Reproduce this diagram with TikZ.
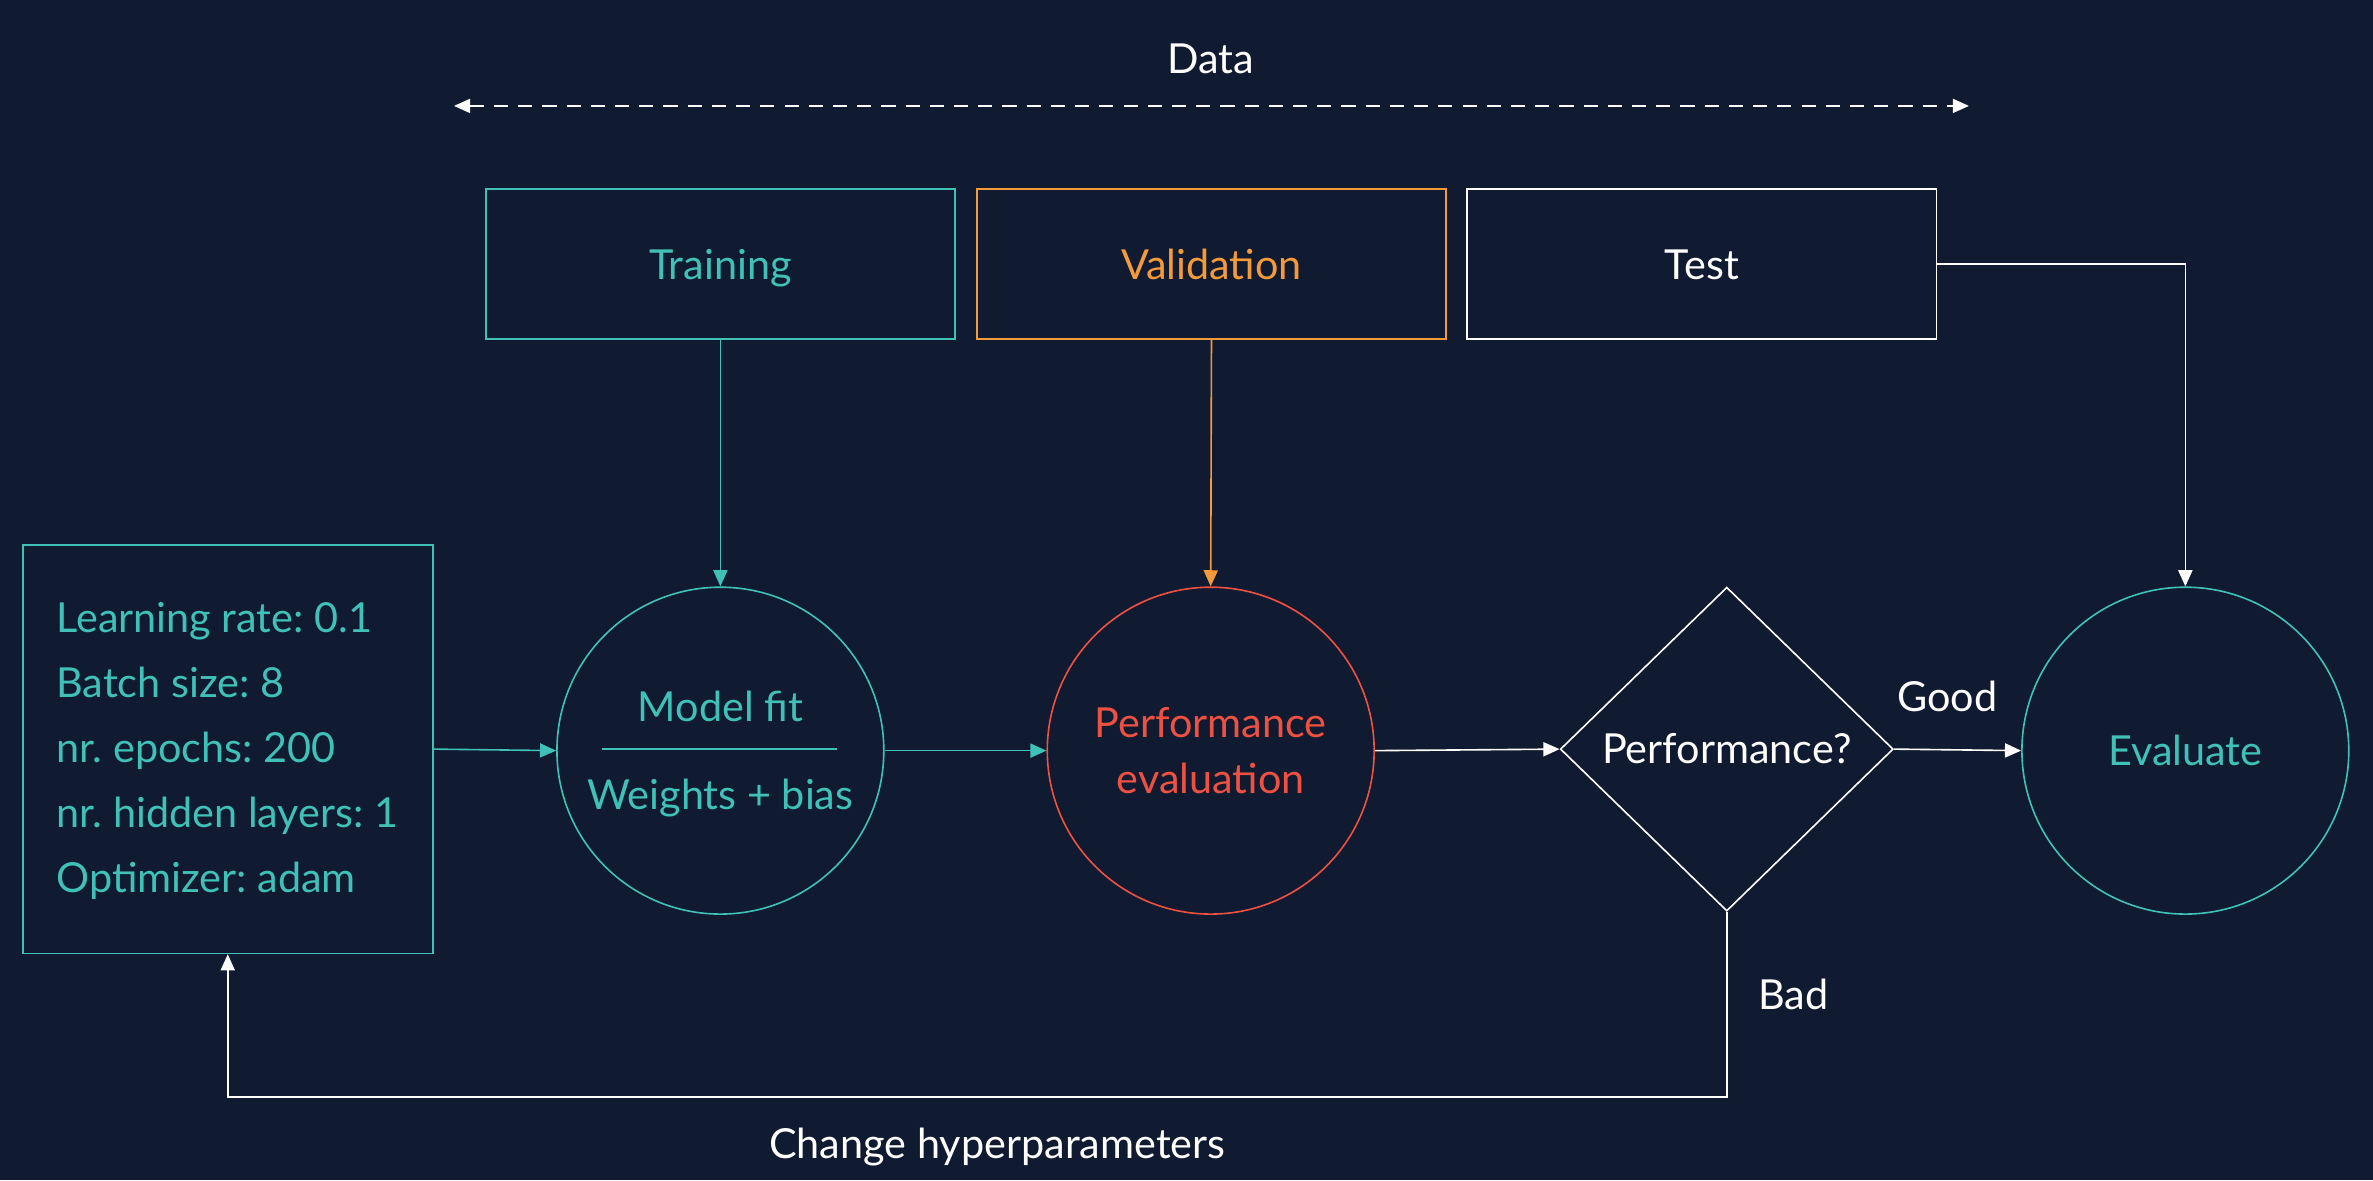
\documentclass[tikz,border=0pt]{standalone}
\usepackage{fontspec}
\setmainfont{Lato}
\usetikzlibrary{arrows.meta,shapes.geometric}
\definecolor{bgc}{HTML}{101A30}
\definecolor{tealc}{HTML}{3FC1B8}
\definecolor{orangec}{HTML}{F59A38}
\definecolor{redc}{HTML}{EE5142}
\frenchspacing
\tikzset{
  txt/.style={font=\fontsize{20.5}{24}\selectfont},
  boxnode/.style={draw, line width=0.8pt, minimum width=232.5pt, minimum height=74.25pt, txt, text height=19pt, text depth=4pt},
  circnode/.style={circle, draw, line width=0.8pt, minimum size=162pt, inner sep=0pt, txt},
  conn/.style={line width=0.8pt, -{Triangle[length=8pt,width=7pt]}},
}
\begin{document}
\begin{tikzpicture}[x=0.75pt,y=-0.75pt]
\fill[bgc] (0,0) rectangle (1568,780);
\useasboundingbox (0,0) rectangle (1568,780);

% Data arrow
\node[txt, text=white] (data) at (800,39) {Data};
\coordinate (dl) at (300,70);
\coordinate (dr) at (1301,70);
\draw[white, line width=0.8pt, dash pattern=on 7pt off 5pt, {Triangle[length=8pt,width=7pt]}-{Triangle[length=8pt,width=7pt]}] (dl) -- (dr);

% Top boxes
\node[boxnode, draw=tealc, text=tealc] (train) at (476,174.5) {Training};
\node[boxnode, draw=orangec, text=orangec] (val) at (800.5,174.5) {Validation};
\node[boxnode, draw=white, text=white] (test) at (1124.5,174.5) {Test};

% Hyperparameter box
\node[draw=tealc, line width=0.8pt, minimum width=203.25pt, minimum height=202.5pt, inner sep=0pt]
  (hyp) at (150.5,495) {};
\node[text=tealc, font=\fontsize{20.5}{32.25}\selectfont, align=left, anchor=west, inner sep=0pt]
  (hyptext) at (37,496) {Learning rate: 0.1\\Batch size: 8\\nr. epochs: 200\\nr. hidden layers: 1\\Optimizer: adam};

% Model fit
\node[circnode, draw=tealc] (fit) at (476,496) {};
\node[txt, text=tealc] (fitA) at (476,467) {Model fit};
\draw[tealc, line width=0.8pt] (398,495) -- (553,495);
\node[txt, text=tealc] (fitB) at (476,527) {Weights + bias};

% Performance evaluation
\node[circnode, draw=redc, text=redc, align=center, font=\fontsize{20.5}{27.75}\selectfont] (perf) at (800,496) {Performance\\evaluation};

% Decision
\node[diamond, draw=white, text=white, line width=0.8pt, minimum width=165pt, minimum height=160.5pt, inner sep=0pt, txt] (dec) at (1141,495) {Performance?};

% Evaluate
\node[circnode, draw=tealc, text=tealc] (eval) at (1444,496) {Evaluate};

% Connectors
\draw[conn, tealc] (hyp.east) -- (fit.west);
\draw[conn, tealc] (train.south) -- (fit.north);
\draw[conn, tealc] (fit.east) -- (perf.west);
\draw[conn, orangec] (val.south) -- (perf.north);
\draw[conn, white] (perf.east) -- (dec.west);
\draw[conn, white] (dec.east) -- node[txt, text=white, midway, yshift=26.25pt, xshift=-5pt] {Good} (eval.west);
\draw[conn, white] (test.east) -| (eval.north);
\coordinate (br) at (1141,725);
\coordinate (bl) at (150.5,725);
\draw[conn, white] (dec.south) -- (br) -- (bl) -- (hyp.south);
\node[txt, text=white] (bad) at (1185,657) {Bad};
\node[txt, text=white] (chg) at (659,758) {Change hyperparameters};
\end{tikzpicture}
\end{document}
